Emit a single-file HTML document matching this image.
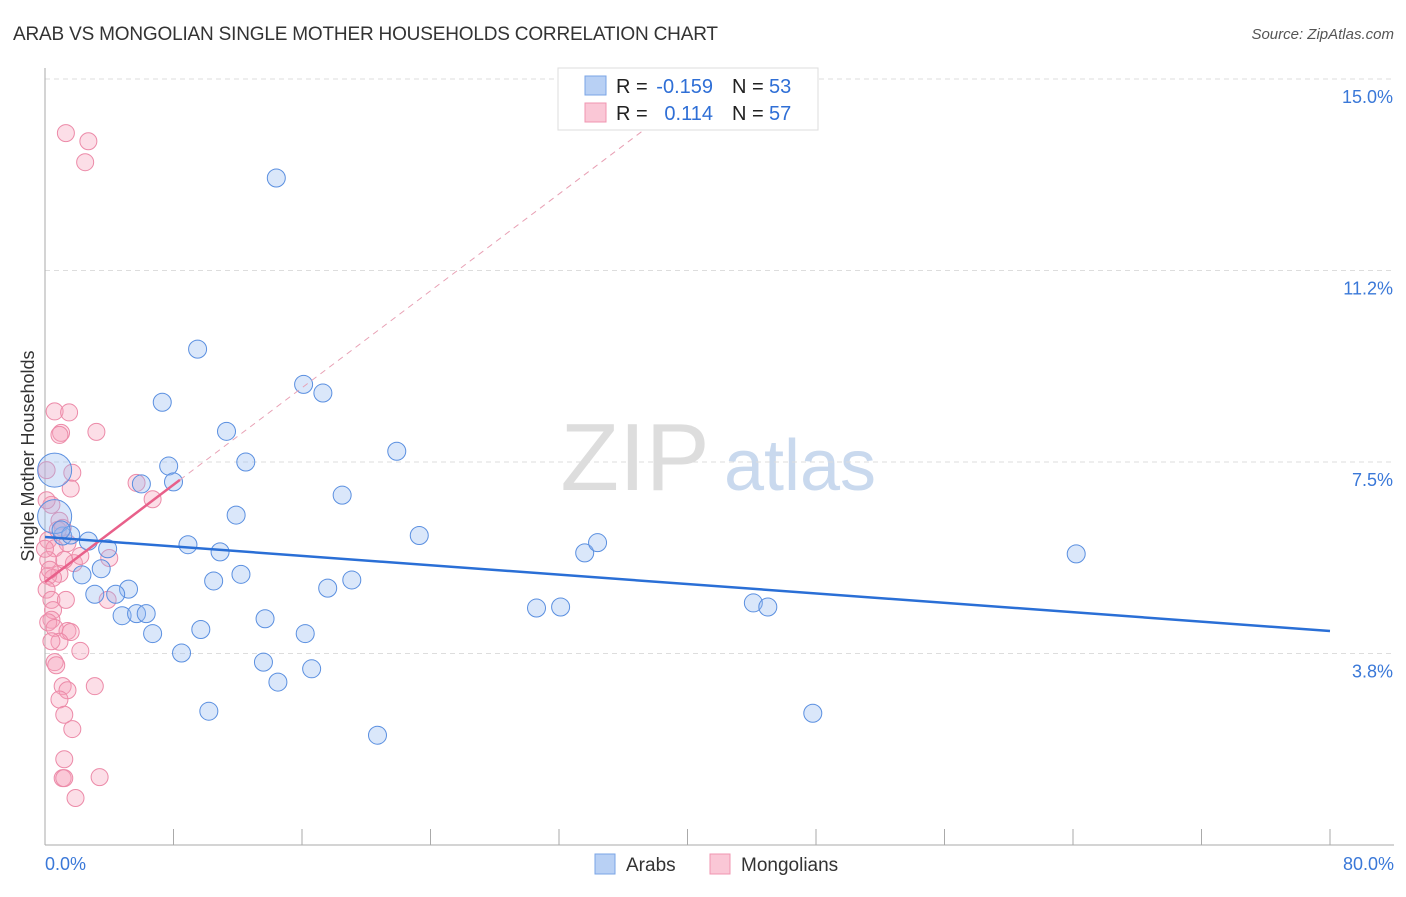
<!DOCTYPE html>
<html><head><meta charset="utf-8"><style>
body{margin:0;background:#fff;font-family:"Liberation Sans",sans-serif}
svg text{font-family:"Liberation Sans",sans-serif}
</style></head><body>
<svg id="chart" width="1406" height="892" xmlns="http://www.w3.org/2000/svg">
<text x="13" y="40" font-size="19" fill="#333" textLength="705">ARAB VS MONGOLIAN SINGLE MOTHER HOUSEHOLDS CORRELATION CHART</text>
<text x="1394" y="39" font-size="15" fill="#555" text-anchor="end" font-style="italic">Source: ZipAtlas.com</text>
<text transform="translate(34,456) rotate(-90)" font-size="18" fill="#333" text-anchor="middle">Single Mother Households</text>
<g><text x="635" y="490" font-size="96" fill="#ddd" text-anchor="middle" font-family="Liberation Serif">ZIP</text><text x="800" y="490" font-size="72" fill="#c9d9ee" text-anchor="middle">atlas</text></g>
<g id="grid"></g><g id="marks"></g>
<g>
<rect x="558" y="68" width="260" height="62" fill="#fff" stroke="#ddd"/>
<rect x="585" y="76" width="21" height="19" fill="#b8d0f4" stroke="#7aa4e6"/>
<rect x="585" y="103" width="21" height="19" fill="#fac7d6" stroke="#f095b0"/>
<text x="616" y="93" font-size="20" fill="#222">R =</text><text x="713" y="93" font-size="20" fill="#2f6fd6" text-anchor="end">-0.159</text>
<text x="732" y="93" font-size="20" fill="#222">N =</text><text x="769" y="93" font-size="20" fill="#2f6fd6">53</text>
<text x="616" y="120" font-size="20" fill="#222">R =</text><text x="713" y="120" font-size="20" fill="#2f6fd6" text-anchor="end">0.114</text>
<text x="732" y="120" font-size="20" fill="#222">N =</text><text x="769" y="120" font-size="20" fill="#2f6fd6">57</text>
</g>
<g>
<rect x="595" y="854" width="20" height="20" fill="#b8d0f4" stroke="#7aa4e6"/><text x="626" y="871" font-size="19" fill="#333">Arabs</text>
<rect x="710" y="854" width="20" height="20" fill="#fac7d6" stroke="#f095b0"/><text x="741" y="871" font-size="19" fill="#333">Mongolians</text>
</g>
</svg>
<script>
const yTicks=[15.0,11.25,7.5,3.75];
const yTickLabels=["15.0%","11.2%","7.5%","3.8%"];
const xTickLabels=["0.0%","80.0%"];
const arabX=[14.4,9.5,7.3,16.1,17.3,11.3,7.7,12.5,8.0,6.0,21.9,18.5,11.9,23.3,8.9,10.9,3.9,2.7,1.1,0.6,0.6,3.5,2.3,10.5,12.2,5.2,4.4,3.1,17.6,19.1,33.6,34.4,64.2,30.6,32.1,44.1,45.0,4.8,5.7,6.3,6.7,9.7,13.7,16.2,8.5,13.6,16.6,14.5,10.2,47.8,20.7,1.6,1.0];
const arabY=[13.06,9.71,8.67,9.02,8.85,8.1,7.42,7.5,7.11,7.07,7.71,6.85,6.46,6.06,5.88,5.74,5.8,5.95,6.05,7.34,6.43,5.41,5.29,5.17,5.3,5.01,4.91,4.91,5.03,5.19,5.72,5.92,5.7,4.64,4.66,4.74,4.66,4.49,4.53,4.53,4.14,4.22,4.43,4.14,3.76,3.58,3.45,3.19,2.62,2.58,2.15,6.07,6.17];
const arabR=[9,9,9,9,9,9,9,9,9,9,9,9,9,9,9,9,9,9,9,17,17,9,9,9,9,9,9,9,9,9,9,9,9,9,9,9,9,9,9,9,9,9,9,9,9,9,9,9,9,9,9,9,9];
const monX=[1.3,2.7,2.5,0.6,1.5,1.0,3.2,0.9,1.7,0.1,1.6,5.7,6.7,0.4,0.9,1.1,0.2,1.4,0.6,4.0,1.8,0.9,0.2,0.5,0.1,0.4,0.5,0.4,3.9,0.2,0.6,1.4,1.6,0.9,2.2,0.6,0.7,1.1,1.4,3.1,0.9,1.2,1.7,1.2,1.1,1.2,3.4,1.9,0.2,0.0,0.1,0.8,0.3,1.2,2.2,0.4,1.3];
const monY=[13.94,13.78,13.37,8.49,8.47,8.07,8.09,8.03,7.29,7.34,6.98,7.09,6.77,6.66,6.35,6.21,5.97,5.91,5.81,5.62,5.52,5.31,5.27,5.23,5.0,4.8,4.6,4.41,4.8,4.36,4.25,4.19,4.17,3.98,3.8,3.58,3.52,3.11,3.03,3.11,2.85,2.55,2.27,1.68,1.31,1.31,1.33,0.92,5.58,5.8,6.75,6.17,5.39,5.58,5.66,3.99,4.8];
const arabTrend=[[0,6.03],[80,4.19]];
const monTrendSolid=[[0,5.15],[8.4,7.15]];
const monTrendDash=[[8.4,7.15],[37.7,14.1]];
const X=v=>45+v/80*1285, Y=v=>845-v*51.07;
const NS="http://www.w3.org/2000/svg";
const grid=document.getElementById('grid'), marks=document.getElementById('marks');
function mk(tag,attrs,parent){const e=document.createElementNS(NS,tag);for(const k in attrs)e.setAttribute(k,attrs[k]);parent.appendChild(e);return e;}
yTicks.forEach((t,i)=>{
 const l=mk('line',{x1:45,x2:1394,y1:Y(t),y2:Y(t),stroke:'#ddd','stroke-dasharray':'5,4'},grid);
 
 
 const tx=mk('text',{x:1393,y:Y(t)+24,'font-size':18,fill:'#3a78d8','text-anchor':'end'},grid);
 tx.textContent=yTickLabels[i];
 
 
});
const ax=mk('line',{x1:45,x2:45,y1:68,y2:845,stroke:'#aaa'},grid);


const bx=mk('line',{x1:45,x2:1394,y1:845,y2:845,stroke:'#aaa'},grid);


for(let i=0;i<=10;i++){const t=mk('line',{x1:X(i*8),x2:X(i*8),y1:829,y2:845,stroke:'#aaa'},grid);
 
 }
[[0,'start',45],[80,'end',1394]].forEach((d,i)=>{const t=mk('text',{x:d[2],y:870,'font-size':18,fill:'#3a78d8','text-anchor':d[1]},grid);t.textContent=xTickLabels[i];
 
 });
monX.forEach((x,i)=>{const c=mk('circle',{cx:X(x),cy:Y(monY[i]),r:8.5,fill:'rgba(246,160,185,0.35)',stroke:'#ec8aa8','stroke-width':1},marks);
 
 });
arabX.forEach((x,i)=>{const c=mk('circle',{cx:X(x),cy:Y(arabY[i]),r:arabR[i],fill:'rgba(150,185,240,0.35)',stroke:'#5a8fe0','stroke-width':1},marks);
 
 });
const d1=mk('line',{x1:X(monTrendDash[0][0]),y1:Y(monTrendDash[0][1]),x2:X(monTrendDash[1][0]),y2:Y(monTrendDash[1][1]),stroke:'#e8a0b4','stroke-dasharray':'6,5'},marks);


const l2=mk('line',{x1:X(monTrendSolid[0][0]),y1:Y(monTrendSolid[0][1]),x2:X(monTrendSolid[1][0]),y2:Y(monTrendSolid[1][1]),stroke:'#e8608a','stroke-width':2.5},marks);


const l1=mk('line',{x1:X(arabTrend[0][0]),y1:Y(arabTrend[0][1]),x2:X(arabTrend[1][0]),y2:Y(arabTrend[1][1]),stroke:'#2a6fd6','stroke-width':2.5},marks);


</script>
</body></html>
